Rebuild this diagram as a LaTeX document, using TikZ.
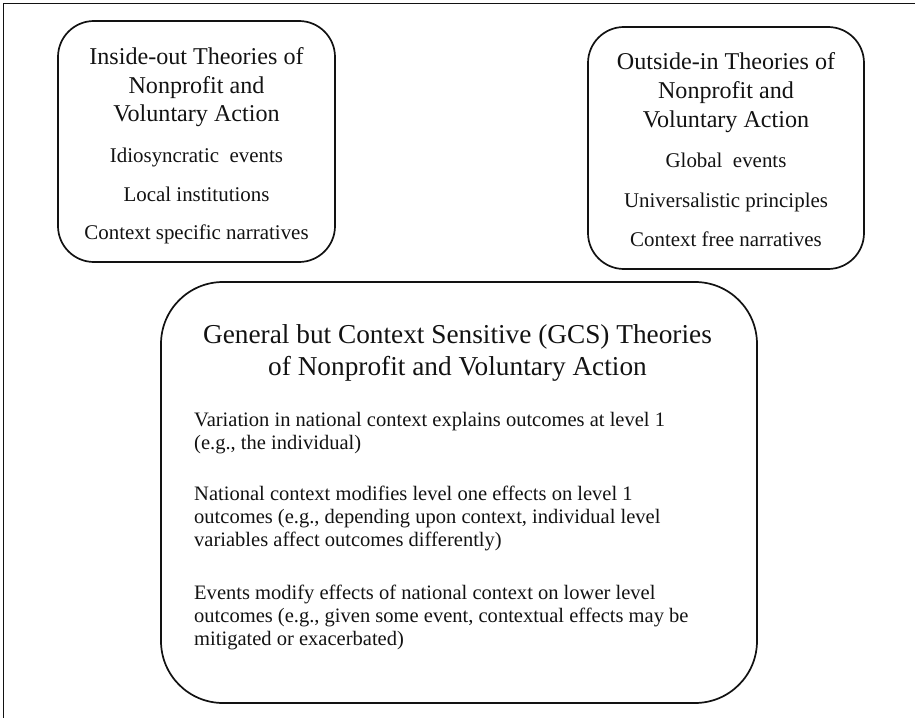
\documentclass[tikz,border=0pt]{standalone}
\usepackage{fontspec}
\setmainfont{Liberation Serif}
\definecolor{ink}{HTML}{121212}
\begin{document}
\begin{tikzpicture}[x=1bp,y=-1bp,
  frameline/.style={draw=ink,line width=1.1bp},
  roundbox/.style={draw=ink,line width=1.7bp,inner sep=0pt},
  ttlA/.style={inner sep=0pt,anchor=base,text=ink,font=\fontsize{24.2}{28}\selectfont},
  ttlB/.style={inner sep=0pt,anchor=base,text=ink,font=\fontsize{27.4}{31}\selectfont},
  item/.style={inner sep=0pt,anchor=base,text=ink,font=\fontsize{21}{24}\selectfont},
  bodyline/.style={inner sep=0pt,anchor=base west,text=ink,font=\fontsize{20.6}{23}\selectfont}]
\useasboundingbox (0,0) rectangle (915,718);
% outer frame (left and top edges)
\coordinate (fbl) at (3.8,718);
\coordinate (ftl) at (3.8,3.8);
\coordinate (ftr) at (915,3.8);
\draw[frameline] (fbl) -- (ftl) -- (ftr);
% boxes
\node[roundbox,rounded corners=36bp,minimum width=277bp,minimum height=241bp] (inside) at (196.5,141.5) {};
\node[roundbox,rounded corners=36bp,minimum width=276bp,minimum height=242bp] (outside) at (726,148) {};
\node[roundbox,rounded corners=62bp,minimum width=596bp,minimum height=421bp] (gcs) at (459,492.5) {};
% inside-out texts
\node[ttlA] (i1) at (196.5,65) {Inside-out Theories of};
\node[ttlA] (i2) at (196.5,94) {Nonprofit and};
\node[ttlA] (i3) at (196.5,122) {Voluntary Action};
\node[item] (i4) at (196.5,163) {Idiosyncratic~ events};
\node[item] (i5) at (196.5,201) {Local institutions};
\node[item] (i6) at (196.5,239) {Context specific narratives};
% outside-in texts
\node[ttlA] (o1) at (726,70) {Outside-in Theories of};
\node[ttlA] (o2) at (726,99) {Nonprofit and};
\node[ttlA] (o3) at (726,128) {Voluntary Action};
\node[item] (o4) at (726,168) {Global~ events};
\node[item] (o5) at (726,207) {Universalistic principles};
\node[item] (o6) at (726,246) {Context free narratives};
% GCS texts
\node[ttlB] (g1) at (457.5,343) {General but Context Sensitive (GCS) Theories};
\node[ttlB] (g2) at (457.5,375) {of Nonprofit and Voluntary Action};
\node[bodyline] (p1a) at (194,426) {Variation in national context explains outcomes at level 1};
\node[bodyline] (p1b) at (194,449) {(e.g., the individual)};
\node[bodyline] (p2a) at (194,500) {National context modifies level one effects on level 1};
\node[bodyline] (p2b) at (194,523) {outcomes (e.g., depending upon context, individual level};
\node[bodyline] (p2c) at (194,546) {variables affect outcomes differently)};
\node[bodyline] (p3a) at (194,599) {Events modify effects of national context on lower level};
\node[bodyline] (p3b) at (194,622) {outcomes (e.g., given some event, contextual effects may be};
\node[bodyline] (p3c) at (194,645) {mitigated or exacerbated)};
\end{tikzpicture}
\end{document}
